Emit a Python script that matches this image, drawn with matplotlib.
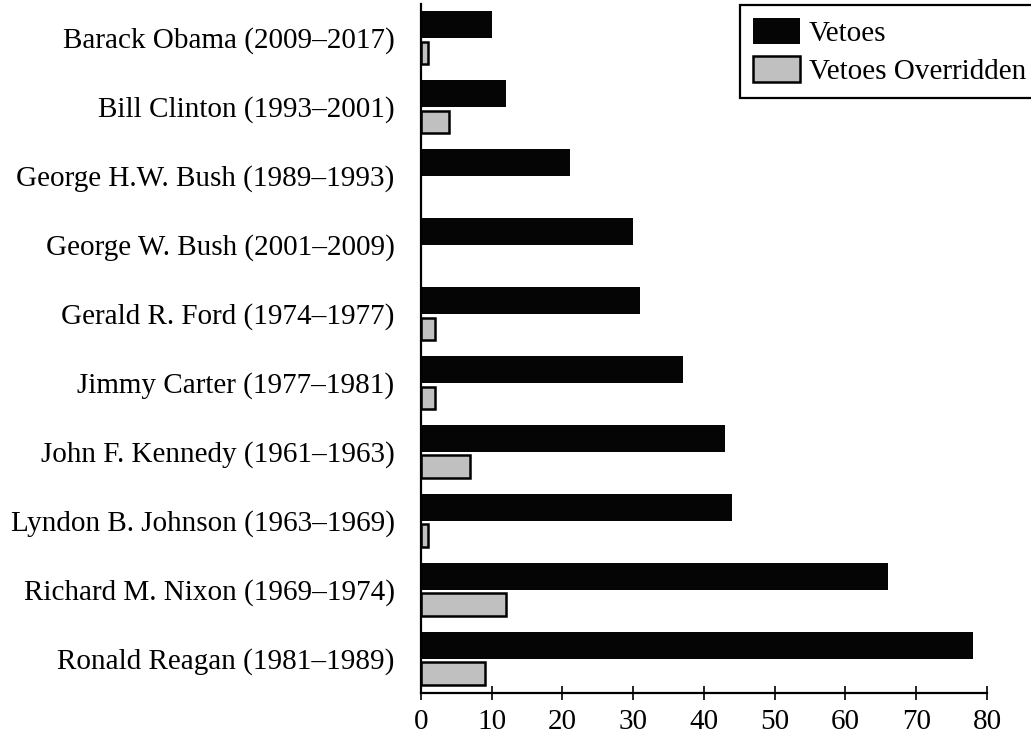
import matplotlib.pyplot as plt
import numpy as np

presidents = ['Barack Obama (2009–2017)', 'Bill Clinton (1993–2001)',
              'George H.W. Bush (1989–1993)', 'George W. Bush (2001–2009)',
              'Gerald R. Ford (1974–1977)', 'Jimmy Carter (1977–1981)',
              'John F. Kennedy (1961–1963)', 'Lyndon B. Johnson (1963–1969)',
              'Richard M. Nixon (1969–1974)', 'Ronald Reagan (1981–1989)']
vetoes = [10, 12, 21, 30, 31, 37, 43, 44, 66, 78]
overridden = [1, 4, 0, 0, 2, 2, 7, 1, 12, 9]
xticks = [0, 10, 20, 30, 40, 50, 60, 70, 80]

plt.rcParams['font.family'] = ['Liberation Serif', 'DejaVu Serif']

fig = plt.figure(figsize=(10.31, 7.36), dpi=100)
ax = fig.add_axes([0.4083, 0.0584, 0.5490, 0.9362])

y = np.arange(len(presidents))
off = 0.41
# no outline on the empty bars
lw = [1.8 if v > 0 else 0 for v in overridden]
ax.barh(y, vetoes, height=0.40, color='#050505', edgecolor='none', label='Vetoes')
ax.barh(y + off, overridden, height=0.33, color='#c0c0c0', edgecolor='black',
        linewidth=lw, label='Vetoes Overridden')

ax.set_xlim(0, 80)
ax.set_ylim(9.688, -0.30)
ax.set_yticks(y + 0.19)
ax.set_yticklabels(presidents, fontsize=21)
ax.set_xticks(xticks)
ax.set_xticklabels([str(t) for t in xticks], fontsize=21)

ax.spines['top'].set_visible(False)
ax.spines['right'].set_visible(False)
ax.spines['left'].set_linewidth(1.6)
ax.spines['bottom'].set_linewidth(1.6)
ax.tick_params(axis='y', length=0, pad=19)
ax.tick_params(axis='x', direction='inout', length=9.5, width=1.2, pad=6.5)

leg = ax.legend(loc='upper left', bbox_to_anchor=(740 / 1031, 1 - 5 / 736),
                bbox_transform=fig.transFigure, fontsize=21, frameon=True,
                fancybox=False, framealpha=1, edgecolor='black',
                handlelength=1.6, handleheight=1.0, handletextpad=0.3,
                labelspacing=0.3, borderpad=0.45, borderaxespad=0)
leg.get_frame().set_linewidth(1.6)
leg.legend_handles[1].set_linewidth(1.8)

fig.savefig('out.png', dpi=100)
